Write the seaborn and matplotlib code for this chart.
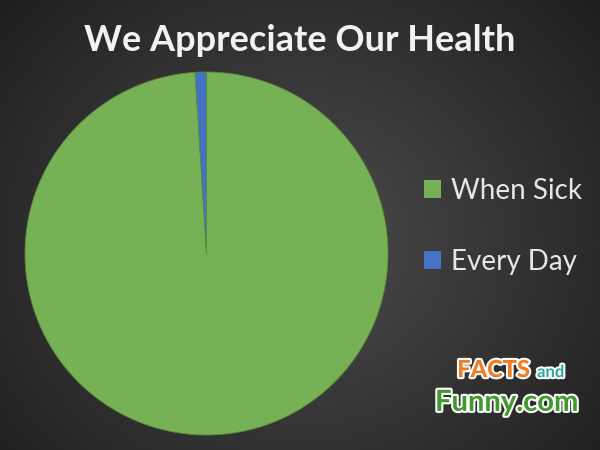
import numpy as np
import matplotlib
matplotlib.use("Agg")
import matplotlib.pyplot as plt
import matplotlib.patheffects as pe
from matplotlib.patches import Patch
import seaborn as sns

# Chart data
labels = ['When Sick', 'Every Day']
values = [99, 1]
colors = ['#76b255', '#4472c4']
title = 'We Appreciate Our Health'

sns.set_style("white")
plt.rcParams['font.family'] = ['Lato', 'DejaVu Sans']

fig = plt.figure(figsize=(6, 4.5), dpi=100)

# radial gradient backdrop
bg = fig.add_axes([0, 0, 1, 1])
yy, xx = np.mgrid[0:450, 0:600]
r = np.hypot((xx - 300) / 420, (yy - 240) / 380)
shade = np.clip(0.30 - 0.19 * r, 0.09, 0.30)
bg.imshow(np.dstack([shade] * 3), aspect='auto', extent=[0, 1, 0, 1])
bg.axis('off')

# pie
ax = fig.add_axes([25 / 600, 15 / 450, 363 / 600, 363 / 450])
ax.pie(values, colors=colors, startangle=90, counterclock=False,
       wedgeprops=dict(linewidth=0.6, edgecolor='#5a8a40'))
ax.set_xlim(-1, 1)
ax.set_ylim(-1, 1)
ax.set_aspect('equal')
ax.axis('off')

fig.text(0.5, 1 - 51 / 450, title, ha='center', va='baseline',
         color='#f2f2f2', fontsize=26, fontweight='bold')

handles = [Patch(facecolor=c, edgecolor='none') for c in colors]
fig.legend(handles, labels, loc='center left', bbox_to_anchor=(424 / 600, 0.497),
           frameon=False, fontsize=20, labelcolor='#e6e6e6',
           borderpad=0, borderaxespad=0,
           handlelength=0.62, handleheight=0.62, handletextpad=0.36,
           labelspacing=1.6)

# watermark
stroke = [pe.withStroke(linewidth=3, foreground='white')]
fig.text(0.762, 0.162, 'FACTS', color='#f47b20', fontsize=17,
         fontweight='black', path_effects=stroke)
fig.text(0.895, 0.162, 'and', color='#2aa89a', fontsize=12,
         fontweight='bold', path_effects=stroke)
fig.text(0.725, 0.087, 'Funny.com', color='#3f9a2c', fontsize=21,
         fontweight='bold', path_effects=stroke)

fig.savefig('out.png', dpi=100)
